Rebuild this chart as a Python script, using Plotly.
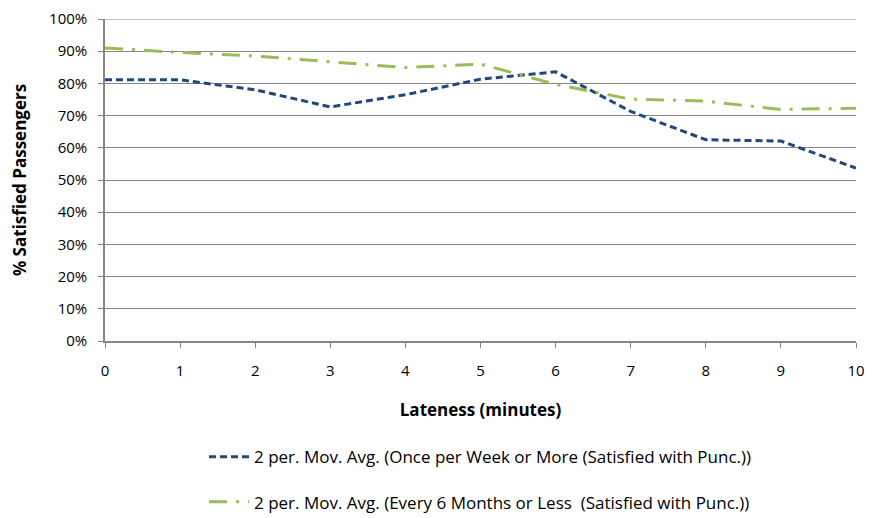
import plotly.graph_objects as go

lateness = [0, 1, 2, 3, 4, 5, 6, 7, 8, 9, 10]
weekly = [0.811, 0.811, 0.78, 0.727, 0.765, 0.813, 0.836, 0.713, 0.625, 0.621, 0.537]
six_months = [0.910, 0.896, 0.885, 0.866, 0.849, 0.860, 0.797, 0.751, 0.745, 0.719, 0.723]
pct_ticks = [0, 0.1, 0.2, 0.3, 0.4, 0.5, 0.6, 0.7, 0.8, 0.9, 1.0]
name_weekly = "2 per. Mov. Avg. (Once per Week or More (Satisfied with Punc.))"
name_six = "2 per. Mov. Avg. (Every 6 Months or Less  (Satisfied with Punc.))"

FONT = "Open Sans, sans-serif"
AX = "#868686"

fig = go.Figure()
fig.add_trace(go.Scatter(x=lateness, y=weekly, mode="lines", name=name_weekly,
                         legendgroup="a",
                         line=dict(color="#1F497D", width=3, dash="7px,4px")))
fig.add_trace(go.Scatter(x=lateness, y=six_months, mode="lines", name=name_six,
                         legendgroup="b",
                         line=dict(color="#9BBB59", width=3, dash="18px,9px,3px,9px")))

# top gridline (plotly drops gridlines lying exactly on the plot edge)
fig.add_shape(type="line", xref="paper", x0=0, x1=1, yref="y", y0=pct_ticks[-1], y1=pct_ticks[-1],
              line=dict(color=AX, width=1), layer="below")

fig.update_layout(
    width=864, height=510,
    margin=dict(l=97, r=16, t=11, b=177, autoexpand=False),
    paper_bgcolor="white", plot_bgcolor="white",
    font=dict(family=FONT, size=15, color="black"),
    showlegend=True,
    legend=dict(orientation="v", x=0.5, xanchor="center", y=-0.305, yanchor="top",
                tracegroupgap=20, font=dict(size=17), itemwidth=40),
    xaxis=dict(range=[0, 10], tickmode="array", tickvals=lateness, automargin=False,
               ticks="outside", ticklen=5, tickcolor=AX, showline=True, linecolor=AX,
               linewidth=1.5, showgrid=False, zeroline=False, ticklabelstandoff=10,
               ticklabeloverflow="allow",
               title=dict(text="<b>Lateness (minutes)</b>", standoff=25, font=dict(size=17)),
               tickfont=dict(size=15)),
    yaxis=dict(range=[0, 1], tickmode="array", tickvals=pct_ticks,
               tickformat=".0%", ticks="outside", ticklen=5,
               tickcolor=AX, showline=True, linecolor=AX, linewidth=1.5, automargin=False,
               showgrid=True, gridcolor=AX, gridwidth=1, zeroline=False, ticklabelstandoff=8,
               ticklabeloverflow="allow",
               title=dict(text="<b>% Satisfied Passengers</b>", standoff=22, font=dict(size=17)),
               tickfont=dict(size=15)),
)

fig.write_html("out.html")
